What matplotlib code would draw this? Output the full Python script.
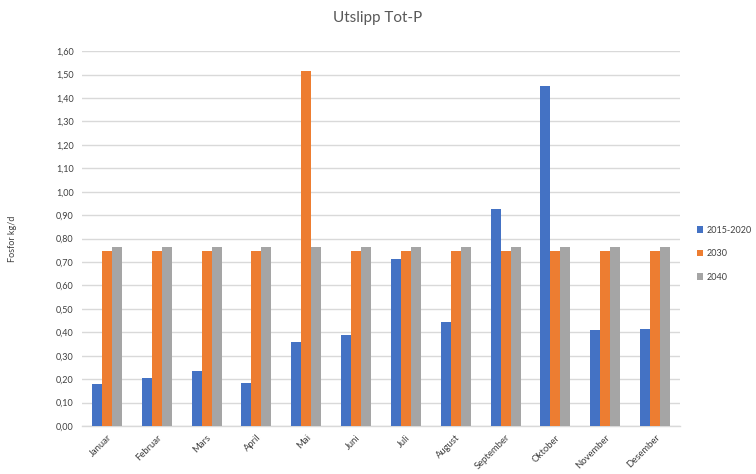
import matplotlib
matplotlib.use("Agg")
import matplotlib.pyplot as plt
import numpy as np

months = ["Januar", "Februar", "Mars", "April", "Mai", "Juni", "Juli",
          "August", "September", "Oktober", "November", "Desember"]
series_names = ["2015-2020", "2030", "2040"]
vals_2015_2020 = [0.178, 0.206, 0.234, 0.182, 0.357, 0.390, 0.713,
                  0.443, 0.928, 1.450, 0.409, 0.413]
vals_2030 = [0.748, 0.748, 0.748, 0.748, 1.517, 0.748, 0.748,
             0.748, 0.748, 0.748, 0.748, 0.748]
vals_2040 = [0.764, 0.764, 0.764, 0.764, 0.764, 0.764, 0.764,
             0.764, 0.764, 0.764, 0.764, 0.764]
yticks = [i / 10 for i in range(0, 17)]

colors = ["#4472C4", "#ED7D31", "#A5A5A5"]
text_col = "#595959"

plt.rcParams["font.family"] = ["Lato", "DejaVu Sans"]

fig = plt.figure(figsize=(7.56, 4.74), dpi=100)
ax = fig.add_axes([0.1085, 0.1013, 0.791, 0.7907])

x = np.arange(len(months))
w = 0.2
for i, (vals, name) in enumerate(zip([vals_2015_2020, vals_2030, vals_2040], series_names)):
    ax.bar(x + (i - 1) * w, vals, width=w, color=colors[i], label=name, zorder=3)

ax.set_xlim(-0.5, len(months) - 0.5)
ax.set_ylim(0, 1.6)
ax.set_yticks(yticks)
ax.set_yticklabels([f"{t:.2f}".replace(".", ",") for t in yticks],
                   fontsize=6.5, color="#404040")
ax.set_xticks(x)
ax.set_xticklabels(months, rotation=45, ha="right", va="top",
                   rotation_mode="anchor", fontsize=6.8, color="#404040")
ax.tick_params(axis="both", length=0, pad=6)
ax.tick_params(axis="x", pad=5)

ax.grid(axis="y", color="#D9D9D9", linewidth=1.0, zorder=0)
for s in ["top", "right", "left"]:
    ax.spines[s].set_visible(False)
ax.spines["bottom"].set_color("#D9D9D9")
ax.spines["bottom"].set_linewidth(1.0)

ax.set_ylabel("Fosfor kg/d", fontsize=6.5, color="#404040", labelpad=28)
fig.text(0.5, 0.962, "Utslipp Tot-P", ha="center", va="center",
         fontsize=11, color=text_col)

leg = ax.legend(loc="center left", bbox_to_anchor=(1.015, 0.46), frameon=False,
                fontsize=6.5, handlelength=0.7, handleheight=0.7,
                handletextpad=0.4, labelspacing=1.6)
for t in leg.get_texts():
    t.set_color("#404040")

fig.savefig("out.png", dpi=100)
